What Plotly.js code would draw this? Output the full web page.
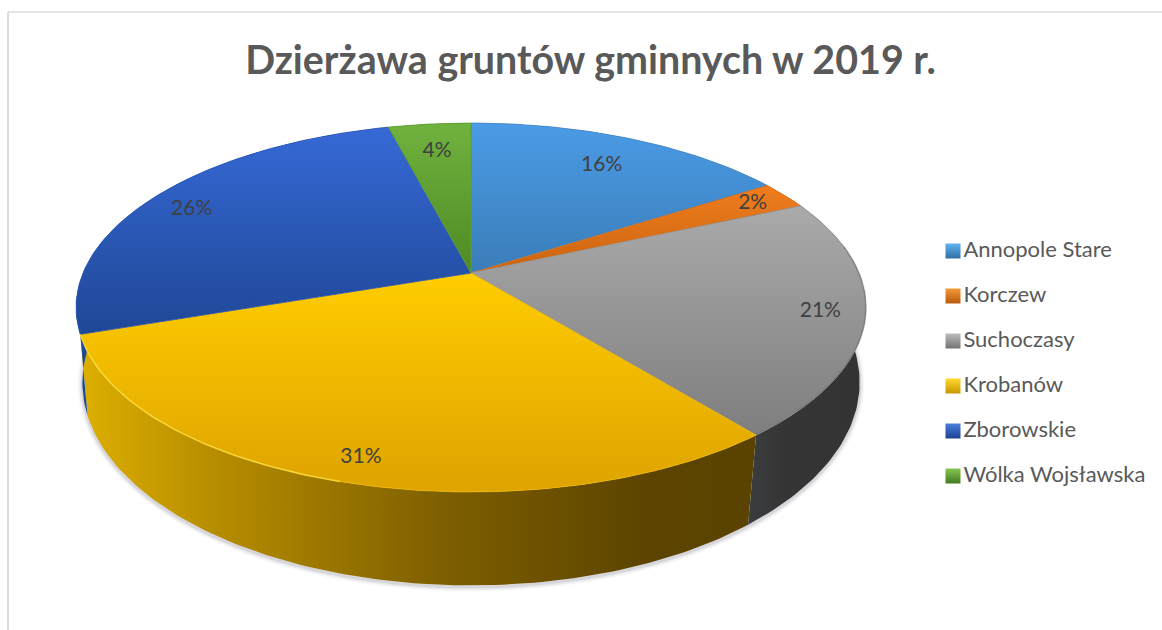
<!DOCTYPE html>
<html><head><meta charset="utf-8">
<script src="https://cdn.plot.ly/plotly-3.0.1.min.js"></script>
<style>html,body{margin:0;padding:0;background:#fff}</style></head>
<body><div id="chart" style="width:1162px;height:630px"></div>
<script>
const titleText = 'Dzierżawa gruntów gminnych w 2019 r.';
const categories = ['Annopole Stare','Korczew','Suchoczasy','Krobanów','Zborowskie','Wólka Wojsławska'];
const shares = [15.9, 2.45, 20.85, 30.55, 26.2, 4.05];

// styling
const topColors = [['#4b9be6','#3a7db8'],['#f07d1e','#c9640f'],['#aaaaaa','#7e7e7e'],['#ffcd00','#dea300'],['#3669d6','#1f4796'],['#70b23e','#4e8a25']];
const seamColors = ['#4289cc','#dc7016','#949494','#eeb800','#2a57b4','#5f9e30'];
const wallScales = [
  [[0,'#27527c'],[1,'#27527c']],
  [[0,'#84420a'],[1,'#84420a']],
  [[0,'#3a3d40'],[0.3,'#353535'],[1,'#333333']],
  [[0,'#dcae00'],[0.18,'#b98f00'],[0.55,'#7c5d00'],[0.85,'#5c4400'],[1,'#5a4300']],
  [[0,'#1d4a94'],[1,'#1d4a94']],
  [[0,'#38611a'],[1,'#38611a']]
];
const swatchColors = [['#5fb4f2','#2f6fa6'],['#f59a3a','#b85a0c'],['#bdbdbd','#737373'],['#ffd92e','#c99600'],['#4a7fe0','#1c4290'],['#86c653','#437a1f']];
const labelRadii = [0.78,0.89,0.89,0.9,0.86,0.79];
const labelTurn = [0.5,0,0,-0.8,-2,0];

// projection of the pie discs
const cx = 471;
const topDisc = {A:388, B:178, y0:273, k:0.187};
const botDisc = {A:383, B:197, y0:348, k:0.17};
const proj = (d,deg,r=1) => {
  const t = deg*Math.PI/180, den = 1 + d.k*r*Math.cos(t);
  return [cx + d.A*r*Math.sin(t)/den, d.y0 - d.B*r*Math.cos(t)/den];
};
const arc = (d,a,b) => {
  const n = Math.max(2,Math.ceil(Math.abs(b-a))), pts = [];
  for (let i=0;i<=n;i++) pts.push(proj(d,a+(b-a)*i/n));
  return pts;
};
const total = shares.reduce((a,b)=>a+b,0);
let acc = 0;
const bounds = shares.map(v => { const s = acc; acc += v; return [s/total*360, acc/total*360]; });
const xs = p => p.map(q=>q[0]), ys = p => p.map(q=>q[1]);
const traces = [];
const base = {type:'scatter',mode:'lines',hoverinfo:'skip',showlegend:false};

// soft shadow under the front edge
const shadowArc = arc(botDisc,75,285).map(p=>[p[0],p[1]+1.5]);
[[9,0.05],[6,0.08],[3,0.14]].forEach(([w,o]) => traces.push({...base,x:xs(shadowArc),y:ys(shadowArc),
  line:{color:`rgba(90,90,110,${o})`,width:w,shape:'spline'}}));

// walls
bounds.forEach(([a,b],i) => {
  const p = arc(topDisc,a,b).concat(arc(botDisc,b,a));
  traces.push({...base,x:xs(p).concat(p[0][0]),y:ys(p).concat(p[0][1]),fill:'toself',
    line:{width:0},fillgradient:{type:'horizontal',colorscale:wallScales[i],start:i===3?85:undefined,stop:i===3?750:undefined}});
});

// top slices
bounds.forEach(([a,b],i) => {
  const p = [proj(topDisc,0,0)].concat(arc(topDisc,a,b));
  p.push(p[0]);
  traces.push({...base,name:categories[i],x:xs(p),y:ys(p),fill:'toself',line:{width:0.8,color:seamColors[i]},
    fillgradient:{type:'vertical',colorscale:[[0,topColors[i][1]],[1,topColors[i][0]]]}});
});

// rim highlight on front edge
const rimY = arc(topDisc,bounds[3][0]+55,bounds[3][1]);
traces.push({...base,x:xs(rimY),y:ys(rimY),line:{color:'rgba(255,224,70,0.75)',width:1.6}});
const rimG = arc(topDisc,bounds[2][0]+15,bounds[2][1]);
traces.push({...base,x:xs(rimG),y:ys(rimG),line:{color:'rgba(70,70,70,0.2)',width:2}});

// percentage labels
const labelPts = bounds.map(([a,b],i)=>proj(topDisc,(a+b)/2+labelTurn[i],labelRadii[i]));
traces.push({...base,mode:'text',x:xs(labelPts),y:ys(labelPts),
  text:shares.map(v=>Math.round(v/total*100)+'%'),textposition:'middle center',
  textfont:{family:'Lato, Carlito, sans-serif',size:21,color:'#404040'}});

// legend column
const legendX = 953, legendTop = 251, legendStep = 45;
categories.forEach((c,i)=>{
  traces.push({...base,mode:'markers+text',name:c,x:[legendX],y:[legendTop+i*legendStep],text:[c],
    textposition:'middle right',
    textfont:{family:'Lato, Carlito, sans-serif',size:22,color:'#595959'},
    marker:{symbol:'square',size:15,color:swatchColors[i][0],line:{width:0},
      gradient:{type:'vertical',color:swatchColors[i][1]}}});
});

const layout = {
  width:1162,height:630,margin:{l:0,r:0,t:0,b:0},
  paper_bgcolor:'#ffffff',plot_bgcolor:'#ffffff',showlegend:false,hovermode:false,
  title:{text:titleText,x:590.5/1162,xanchor:'center',xref:'paper',y:1-60/630,yanchor:'middle',yref:'paper',
    font:{family:'Lato, Carlito, sans-serif',size:39.4,weight:700,color:'#595959'}},
  xaxis:{range:[0,1162],visible:false,fixedrange:true},
  yaxis:{range:[630,0],visible:false,fixedrange:true},
  shapes:[
    {type:'line',xref:'x',yref:'y',x0:8,x1:8,y0:12,y1:630,line:{color:'#dcdcdc',width:2}},
    {type:'line',xref:'x',yref:'y',x0:8,x1:1162,y0:12,y1:12,line:{color:'#dcdcdc',width:1.5}}
  ]
};
Plotly.newPlot('chart',traces,layout,{displayModeBar:false,staticPlot:true});
</script></body></html>
